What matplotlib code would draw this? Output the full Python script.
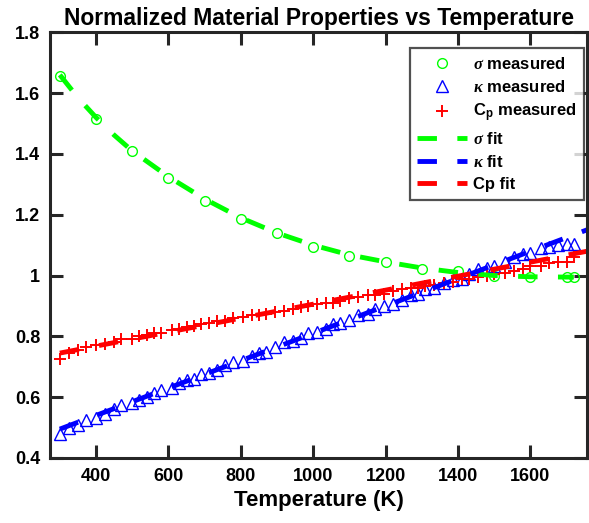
import numpy as np
import matplotlib
matplotlib.use('Agg')
import matplotlib.pyplot as plt

plt.rcParams['font.family'] = ['Liberation Sans', 'DejaVu Sans']
plt.rcParams['font.weight'] = 'bold'
plt.rcParams['mathtext.fontset'] = 'custom'
plt.rcParams['mathtext.rm'] = 'Liberation Sans:bold'
plt.rcParams['mathtext.bf'] = 'Liberation Sans:bold'
plt.rcParams['mathtext.it'] = 'Liberation Serif:italic:bold'

# sigma: measured points and fit curve
T_sigma = [300, 400, 500, 600, 700, 800, 900, 1000, 1100, 1200, 1300, 1400, 1500, 1600, 1700, 1720]
sigma_meas = [1.655, 1.515, 1.41, 1.32, 1.245, 1.185, 1.14, 1.095, 1.065, 1.045, 1.02, 1.015, 0.998, 0.995, 0.995, 0.995]
T_sigma_fit = [300, 350, 400, 450, 500, 600, 700, 800, 900, 1000, 1100, 1200, 1300, 1400, 1500, 1600, 1700, 1720]
sigma_fit = [1.66, 1.585, 1.52, 1.462, 1.41, 1.325, 1.252, 1.19, 1.14, 1.10, 1.068, 1.045, 1.025, 1.01, 1.0, 0.996, 0.995, 0.995]

# kappa and Cp measured at same temperatures
T_meas = [300, 325, 350, 372, 400, 425, 450, 470, 500, 520, 540, 560, 580, 610, 630, 650,
          670, 690, 712, 735, 757, 778, 805, 830, 850, 870, 895, 920, 945, 965, 985, 1010,
          1035, 1055, 1075, 1100, 1125, 1150, 1170, 1195, 1220, 1245, 1270, 1290, 1310, 1335,
          1360, 1385, 1410, 1430, 1455, 1480, 1500, 1530, 1555, 1580, 1600, 1630, 1650, 1675,
          1700, 1720]
kappa_meas = [0.48, 0.50, 0.51, 0.525, 0.53, 0.545, 0.56, 0.575, 0.58, 0.59, 0.60, 0.615, 0.625,
              0.63, 0.645, 0.655, 0.66, 0.675, 0.68, 0.69, 0.705, 0.715, 0.72, 0.735, 0.745, 0.75,
              0.765, 0.78, 0.785, 0.795, 0.81, 0.815, 0.825, 0.84, 0.845, 0.855, 0.87, 0.875, 0.89,
              0.90, 0.905, 0.92, 0.935, 0.94, 0.955, 0.96, 0.975, 0.985, 0.99, 1.005, 1.02, 1.025,
              1.03, 1.045, 1.06, 1.07, 1.075, 1.09, 1.095, 1.10, 1.105, 1.105]
cp_meas = [0.725, 0.745, 0.755, 0.765, 0.77, 0.775, 0.78, 0.79, 0.79, 0.80, 0.805, 0.81, 0.81,
           0.82, 0.825, 0.83, 0.835, 0.84, 0.845, 0.85, 0.85, 0.86, 0.865, 0.87, 0.87, 0.875,
           0.88, 0.885, 0.89, 0.895, 0.90, 0.905, 0.91, 0.91, 0.915, 0.925, 0.93, 0.935, 0.935,
           0.94, 0.95, 0.955, 0.96, 0.96, 0.965, 0.97, 0.975, 0.98, 0.99, 0.99, 0.995, 1.00,
           1.005, 1.01, 1.015, 1.02, 1.03, 1.03, 1.04, 1.045, 1.045, 1.06]

# linear fits (end points)
T_fit = [300, 1800]
kappa_fit = [0.495, 1.17]
cp_fit = [0.745, 1.09]

fig = plt.figure(figsize=(5.89, 5.23), dpi=100)
ax = fig.add_axes([0.085, 0.1243, 0.912, 0.8139])

dash = (4, 4.2)
ax.plot(T_sigma, sigma_meas, 'o', mfc='none', mec='#00ff00', ms=7, mew=1.0, label=r'$\it{\sigma}$ measured')
ax.plot(T_meas, kappa_meas, '^', mfc='none', mec='#0000ff', ms=8, mew=1.0, label=r'$\it{\kappa}$ measured')
ax.plot(T_meas, cp_meas, '+', color='#ff0000', ms=8.5, mew=1.4, label=r'C$_{\mathbf{p}}$ measured')
ax.plot(T_sigma_fit, sigma_fit, '--', color='#00ff00', lw=3.5, dashes=dash, label=r'$\it{\sigma}$ fit')
ax.plot(T_fit, kappa_fit, '--', color='#0000ff', lw=3.5, dashes=dash, label=r'$\it{\kappa}$ fit')
ax.plot(T_fit, cp_fit, '--', color='#ff0000', lw=3.5, dashes=dash, label='Cp fit')

ax.set_xlim(273, 1757)
ax.set_ylim(0.4, 1.8)
ax.set_xticks([400, 600, 800, 1000, 1200, 1400, 1600])
ax.set_yticks([0.4, 0.6, 0.8, 1.0, 1.2, 1.4, 1.6, 1.8])
ax.set_yticklabels(['0.4', '0.6', '0.8', '1', '1.2', '1.4', '1.6', '1.8'])
ax.tick_params(direction='in', length=9.5, width=2.2, top=True, right=True,
               labelsize=13, color='#262626', pad=7)
for lab in ax.get_xticklabels() + ax.get_yticklabels():
    lab.set_fontweight('bold')
for sp in ax.spines.values():
    sp.set_linewidth(2.2)
    sp.set_color('#262626')

ax.set_xlabel('Temperature (K)', fontsize=16, fontweight='bold', labelpad=4)
ax.set_title('Normalized Material Properties vs Temperature', fontsize=16.5, fontweight='bold', pad=5)

leg = ax.legend(loc='upper right', bbox_to_anchor=(0.994, 0.962), borderaxespad=0, fontsize=12,
                frameon=True, fancybox=False, edgecolor='#262626', handlelength=3.0,
                handletextpad=0.35, borderpad=0.45, labelspacing=0.42)
leg.get_frame().set_linewidth(1.6)

fig.savefig('out.png', dpi=100)
